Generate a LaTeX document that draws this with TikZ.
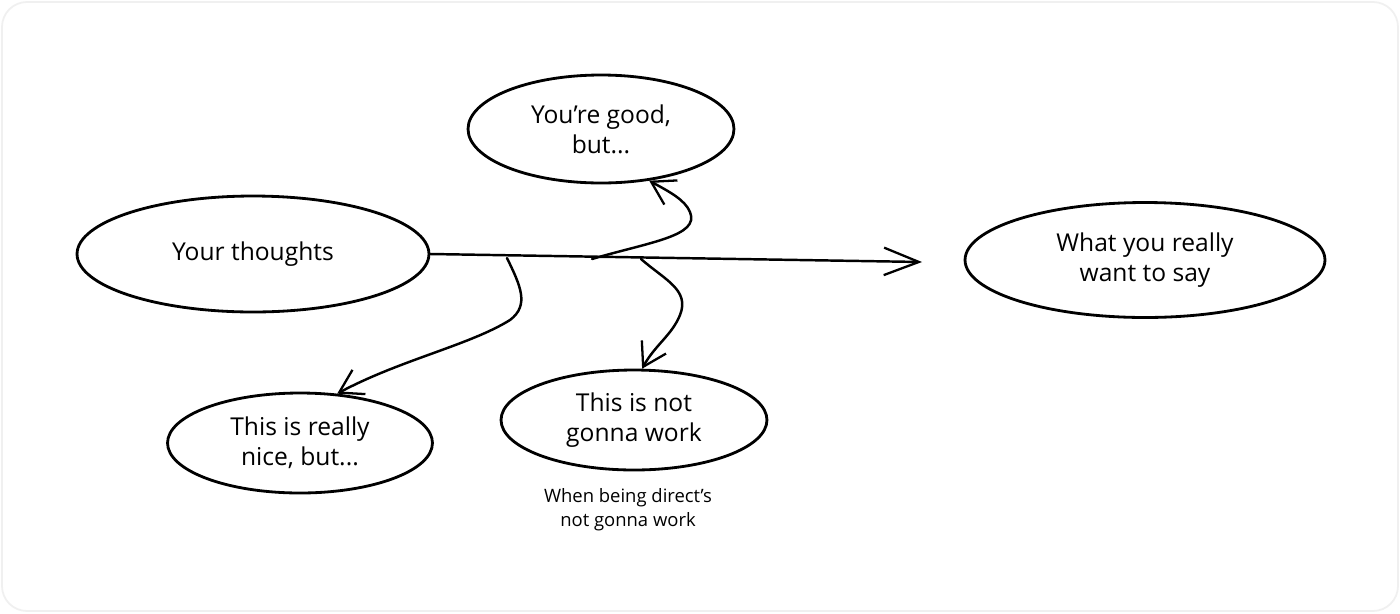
\documentclass[tikz,border=0pt]{standalone}
\usepackage{fontspec}
\setmainfont{Open Sans}
\usetikzlibrary{arrows.meta,shapes.geometric}
\begin{document}
\begin{tikzpicture}[x=0.02cm,y=-0.02cm,
  bubble/.style={draw=black,line width=1.6pt,ellipse,inner sep=0pt,align=center,
    font=\fontsize{14}{17}\selectfont},
  conn/.style={draw=black,line width=1.4pt,line cap=round,
    -{Straight Barb[length=0.45cm,width=0.55cm,line width=1.3pt]}},
  caption/.style={align=center,font=\fontsize{10.5}{13.5}\selectfont}]
\useasboundingbox (0,0) rectangle (1400,613);
\fill[white] (0,0) rectangle (1400,613);
\draw[black!6,line width=1pt,rounded corners=0.5cm] (2,2) rectangle (1398,611);
\node[bubble,minimum width=7.04cm,minimum height=2.32cm] (thoughts) at (253,254) {Your thoughts};
\node[bubble,minimum width=5.32cm,minimum height=2.16cm] (good) at (601,129) {You're good,\\but...};
\node[bubble,minimum width=7.2cm,minimum height=2.3cm] (say) at (1145,260) {What you really\\want to say};
\node[bubble,minimum width=5.3cm,minimum height=2.0cm] (nice) at (300,443) {This is really\\nice, but...};
\node[bubble,minimum width=5.32cm,minimum height=2.0cm] (notwork) at (634,420) {This is not\\gonna work};
\node[caption] (cap) at (628,510) {When being direct's\\not gonna work};
\coordinate (tip) at (922,262);
\coordinate (b1) at (507,258);
\coordinate (b2) at (592,259);
\coordinate (b3) at (641,259);
\draw[conn,-{Straight Barb[length=0.7cm,width=0.55cm,line width=1.3pt]}] (thoughts.east) -- (tip);
\draw[conn] (b2) .. controls (650,242) and (700,236) .. (690,212) .. controls (685,200) and (670,192) .. (good.-47);
\draw[conn] (b3) .. controls (665,280) and (690,290) .. (680,315) .. controls (672,335) and (655,345) .. (notwork.81);
\draw[conn] (b1) .. controls (520,285) and (530,305) .. (510,320) .. controls (470,345) and (400,360) .. (nice.53);
\end{tikzpicture}
\end{document}
